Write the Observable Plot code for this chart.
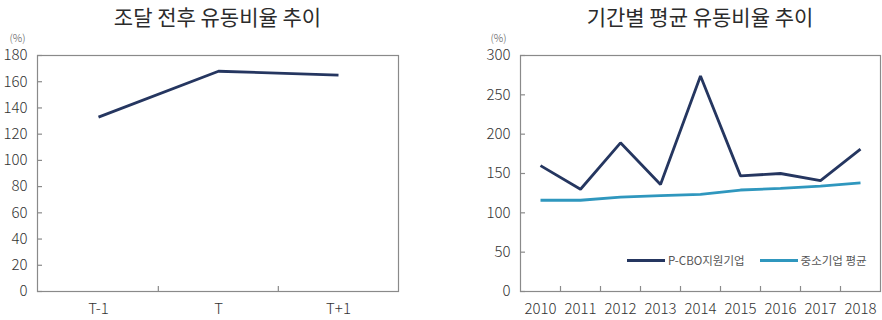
<!DOCTYPE html>
<html>
<head>
<meta charset="utf-8">
<script src="https://cdn.jsdelivr.net/npm/d3@7"></script>
<script src="https://cdn.jsdelivr.net/npm/@observablehq/plot@0.6"></script>
<style>
  html, body { margin: 0; padding: 0; background: #fff; }
  body { width: 882px; height: 320px; overflow: hidden; font-family: "Noto Sans CJK KR", "Noto Sans", sans-serif; }
  #wrap { display: flex; width: 882px; }
  .panel { position: relative; width: 441px; height: 320px; }
  .title { height: 30px; padding-top: 2px; box-sizing: border-box; font-size: 21px; line-height: 28px; color: #2b2b2b; text-align: center; white-space: nowrap; font-weight: 400; }
  .legend { position: absolute; display: flex; align-items: center; font-size: 11.5px; color: #555; white-space: nowrap; }
  .legend .sw { display: inline-block; width: 38px; height: 3px; margin-right: 3px; }
  .legend .item { display: flex; align-items: center; margin-right: 15px; }
</style>
</head>
<body>
<div id="wrap">
  <div class="panel" id="left"></div>
  <div class="panel" id="right"></div>
</div>
<script>
// 조달 전후 유동비율 (%)
const periods = ["T-1", "T", "T+1"];
const periodRatio = [133, 168, 165];

// 기간별 평균 유동비율 (%)
const years = ["2010", "2011", "2012", "2013", "2014", "2015", "2016", "2017", "2018"];
const pcboRatio = [160, 130, 189, 136, 274, 147, 150, 141, 181];
const smeRatio = [116, 116, 120, 122, 123.5, 129, 131, 134, 138];

const seriesNames = ["P-CBO지원기업", "중소기업 평균"];
const seriesColors = ["#253660", "#2f97be"];

const leftTicks = [0, 20, 40, 60, 80, 100, 120, 140, 160, 180];
const rightTicks = [0, 50, 100, 150, 200, 250, 300];

const FONT = '"Noto Sans CJK KR", "Noto Sans", sans-serif';
const frameColor = "#8a8a8a";
const textColor = "#333";

function panel({el, title, cats, series, yDomain, yTicks, marginLeft, marginRight, unitDx, legend}) {
  const width = 441, height = 290, marginTop = 25, marginBottom = 29;
  const step = (width - marginLeft - marginRight) / cats.length;

  const t = document.createElement("div");
  t.className = "title";
  t.style.paddingLeft = marginLeft + "px";
  t.style.paddingRight = marginRight + "px";
  t.textContent = title;
  el.appendChild(t);

  const rows = [];
  series.forEach((s) => s.values.forEach((v, i) => rows.push({cat: cats[i], value: v, name: s.name})));

  const chart = Plot.plot({
    width, height, marginTop, marginBottom, marginLeft, marginRight,
    style: {fontFamily: FONT, fontSize: "15px", color: textColor, background: "transparent"},
    x: {type: "point", domain: cats, padding: 0.5, label: null},
    y: {domain: yDomain, label: null},
    marks: [
      Plot.frame({stroke: frameColor, strokeWidth: 1.2}),
      Plot.axisY({ticks: yTicks, tickSize: -5, tickPadding: 15, stroke: frameColor, strokeWidth: 1.2, label: null, fill: textColor, fontWeight: 300}),
      Plot.axisX({tickSize: 0, tickPadding: 12, label: null, fill: textColor, fontWeight: 300}),
      // short inward ticks on the boundaries between categories
      Plot.axisX(cats.slice(1), {tickSize: -5, text: null, dx: -step / 2, stroke: frameColor, strokeWidth: 1.2, label: null}),
      Plot.text(["(%)"], {frameAnchor: "top-left", dx: unitDx, dy: -21, fontSize: 10.5, fill: "#555", textAnchor: "middle", fontWeight: 300}),
      ...series.map((s) => Plot.line(rows.filter((r) => r.name === s.name), {
        x: "cat", y: "value", stroke: s.color, strokeWidth: 2.8, strokeLinejoin: "miter", strokeLinecap: "butt"
      }))
    ]
  });
  el.appendChild(chart);

  if (legend) {
    const lg = document.createElement("div");
    lg.className = "legend";
    lg.style.left = legend.left + "px";
    lg.style.top = legend.top + "px";
    series.forEach((s) => {
      const it = document.createElement("span");
      it.className = "item";
      const sw = document.createElement("span");
      sw.className = "sw";
      sw.style.background = s.color;
      it.appendChild(sw);
      it.appendChild(document.createTextNode(s.name));
      lg.appendChild(it);
    });
    el.appendChild(lg);
  }
}

panel({
  el: document.getElementById("left"),
  title: "조달 전후 유동비율 추이",
  cats: periods,
  series: [{name: seriesNames[0], values: periodRatio, color: seriesColors[0]}],
  yDomain: [0, 180], yTicks: leftTicks,
  marginLeft: 37, marginRight: 43, unitDx: -20
});

panel({
  el: document.getElementById("right"),
  title: "기간별 평균 유동비율 추이",
  cats: years,
  series: [
    {name: seriesNames[0], values: pcboRatio, color: seriesColors[0]},
    {name: seriesNames[1], values: smeRatio, color: seriesColors[1]}
  ],
  yDomain: [0, 300], yTicks: rightTicks,
  marginLeft: 79, marginRight: 2, unitDx: -22,
  legend: {left: 186, top: 252}
});
</script>
</body>
</html>
